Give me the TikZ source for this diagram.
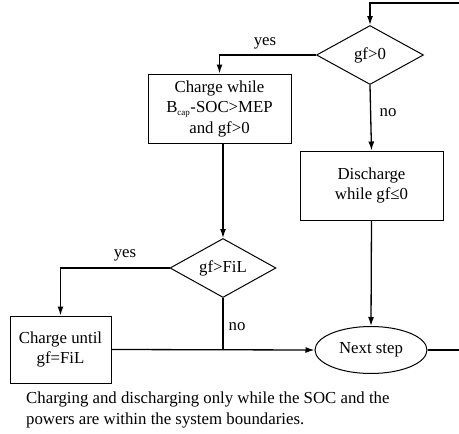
\documentclass[tikz,border=0pt]{standalone}
\usepackage{fontspec}
\setmainfont{Liberation Serif}
\usetikzlibrary{shapes.geometric,arrows.meta}
\begin{document}
\begin{tikzpicture}[x=1pt,y=-1pt,
  every node/.style={font=\fontsize{16.8}{20.5}\selectfont},
  line/.style={line width=1.3pt},
  arr/.style={line width=1.3pt,-{Latex[length=9pt,width=6pt]}},
  boxnode/.style={draw,line width=1pt,align=center,inner sep=0pt},
  decision/.style={draw,diamond,line width=1pt,inner sep=0pt,aspect=1.8},
  lbl/.style={inner sep=0pt}]
\useasboundingbox (0,0) rectangle (459,434);
\node[decision,minimum width=107pt,minimum height=59pt] (d1) at (370,55) {gf>0};
\node[boxnode,minimum width=143pt,minimum height=69pt] (b1) at (219.5,108.5) {Charge while\\B\textsubscript{\fontsize{9}{9}\selectfont cap}-SOC>MEP\\and gf>0};
\node[boxnode,minimum width=143pt,minimum height=69pt] (b2) at (371.5,185.5) {Discharge\\while gf≤0};
\node[decision,minimum width=106pt,minimum height=59pt] (d2) at (223,268) {gf>FiL};
\node[boxnode,minimum width=101pt,minimum height=67pt] (b3) at (60.5,349.5) {Charge until\\gf=FiL};
\node[draw,ellipse,line width=1pt,minimum width=112pt,minimum height=47pt,inner sep=0pt] (ns) at (371,350) {Next step};
\coordinate (tr) at (459,3);
\coordinate (re) at (459,350);
\node[lbl] (y1) at (265,43) {yes};
\node[lbl] (n1) at (388,113) {no};
\node[lbl] (y2) at (125,255) {yes};
\node[lbl] (n2) at (237,327) {no};
\node[lbl,anchor=west,align=left] (cap) at (26,410) {Charging and discharging only while the SOC and the\\powers are within the system boundaries.};
\draw[arr] (tr) -| (d1.north);
\draw[arr] (d1.west) -| (b1.north);
\draw[arr] (d1.south) -- (b2.north);
\draw[arr] (b1.south -| d2.north) -- (d2.north);
\draw[arr] (d2.west) -| (b3.north);
\draw[line] (d2.south) -- (d2.south |- b3.east);
\draw[arr] (b3.east) -- (ns.west);
\draw[arr] (b2.south) -- (ns.north);
\draw[line] (ns.east) -- (re);
\end{tikzpicture}
\end{document}
